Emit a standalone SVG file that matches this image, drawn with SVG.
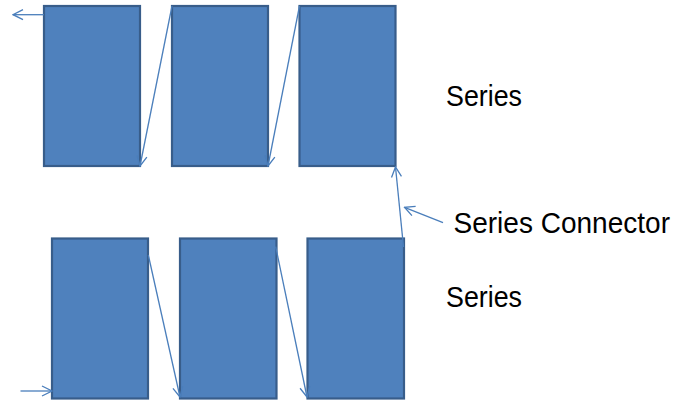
<svg xmlns="http://www.w3.org/2000/svg" width="677" height="402" viewBox="0 0 677 402">
<defs>
<style>
.cell{fill:#4F81BD;stroke:#385D8A;stroke-width:2.2}
.con{fill:none;stroke:#4A7EBB;stroke-width:1.3}
.lbl{font-family:"Liberation Sans",Arial,sans-serif;font-size:29px;fill:#000}
</style>
<marker id="arr" viewBox="0 0 12 12" refX="11" refY="6" markerWidth="12" markerHeight="12" markerUnits="userSpaceOnUse" orient="auto">
<path d="M1,1 L11,6 L1,11" fill="none" stroke="#4A7EBB" stroke-width="1.3"/>
</marker>
</defs>
<rect width="677" height="402" fill="#fff"/>
<g id="cell1"><rect class="cell" x="44" y="6" width="96" height="160"/></g>
<g id="cell2"><rect class="cell" x="172" y="6" width="96" height="160"/></g>
<g id="cell3"><rect class="cell" x="299.5" y="6" width="96" height="160"/></g>
<g id="cell4"><rect class="cell" x="52" y="238.5" width="96" height="160"/></g>
<g id="cell5"><rect class="cell" x="180" y="238.5" width="96.5" height="160"/></g>
<g id="cell6"><rect class="cell" x="307.5" y="238.5" width="96.5" height="160"/></g>
<g id="connectors">
<line class="con" x1="44" y1="14.7" x2="13" y2="14.7" marker-end="url(#arr)"/>
<line class="con" x1="172" y1="6" x2="140" y2="166" marker-end="url(#arr)"/>
<line class="con" x1="299.5" y1="6" x2="268" y2="166" marker-end="url(#arr)"/>
<line class="con" x1="403.5" y1="247" x2="395.5" y2="167" marker-end="url(#arr)"/>
<line class="con" x1="443" y1="222.7" x2="404.5" y2="207.3" marker-end="url(#arr)"/>
<line class="con" x1="20.5" y1="391" x2="52" y2="391" marker-end="url(#arr)"/>
<line class="con" x1="148.3" y1="255" x2="180" y2="397" marker-end="url(#arr)"/>
<line class="con" x1="275.7" y1="246.7" x2="307" y2="397" marker-end="url(#arr)"/>
</g>
<g id="labels">
<text class="lbl" x="446" y="106" textLength="76" lengthAdjust="spacingAndGlyphs">Series</text>
<text class="lbl" x="453.5" y="233.3" textLength="216.5" lengthAdjust="spacingAndGlyphs">Series Connector</text>
<text class="lbl" x="446" y="306.7" textLength="76" lengthAdjust="spacingAndGlyphs">Series</text>
</g>
</svg>
